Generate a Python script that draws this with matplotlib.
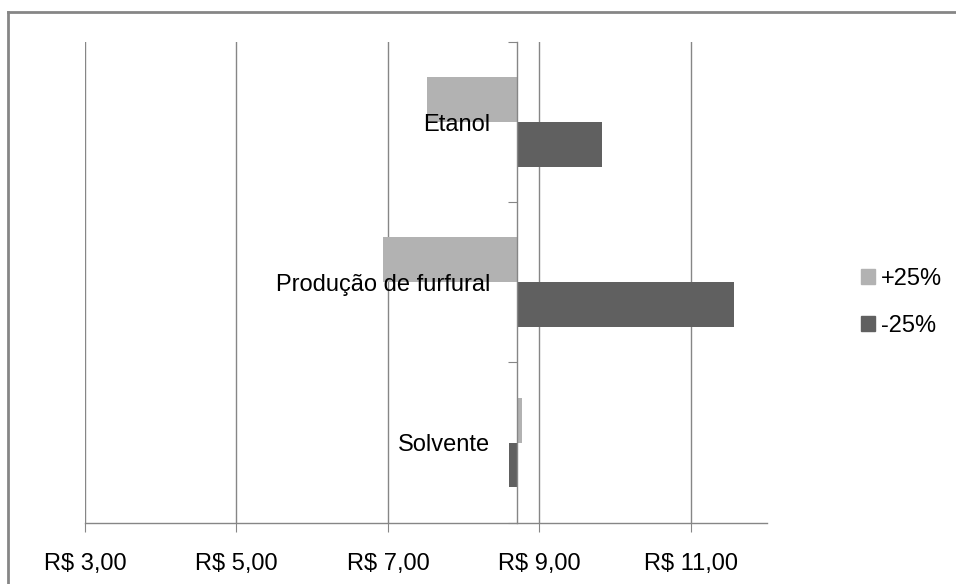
import matplotlib
matplotlib.use("Agg")
import matplotlib.pyplot as plt
from matplotlib.lines import Line2D
from matplotlib.patches import Patch

# dados do gráfico de sensibilidade (tornado)
categorias = ["Solvente", "Produção de furfural", "Etanol"]
mais_25 = [8.77, 6.94, 7.52]
menos_25 = [8.60, 11.57, 9.82]
base = 8.70
x_ticks = [3, 5, 7, 9, 11]
x_labels = ["R$ 3,00", "R$ 5,00", "R$ 7,00", "R$ 9,00", "R$ 11,00"]
series = ["+25%", "-25%"]

cinza_claro = "#b2b2b2"
cinza_escuro = "#606060"
cinza_linha = "#868686"

plt.rcParams["font.family"] = ["Liberation Sans", "DejaVu Sans"]
plt.rcParams["font.size"] = 17

fig = plt.figure(figsize=(9.56, 5.84), dpi=100)
ax = fig.add_axes([85 / 956, 1 - 522.7 / 584, (766.7 - 85) / 956, (522.7 - 42) / 584])

y = list(range(len(categorias)))
h = 0.28
ax.barh([v + h / 2 for v in y], [m - base for m in mais_25], left=base, height=h,
        color=cinza_claro, label=series[0], zorder=2)
ax.barh([v - h / 2 for v in y], [m - base for m in menos_25], left=base, height=h,
        color=cinza_escuro, label=series[1], zorder=2)

ax.set_xlim(3, 12)
ax.set_ylim(-0.5, len(categorias) - 0.5)
ax.set_xticks(x_ticks)
ax.set_xticklabels(x_labels)
ax.grid(axis="x", color=cinza_linha, lw=1)
ax.set_axisbelow(True)
ax.yaxis.set_zorder(5)  # rótulos das categorias por cima das barras

# eixo vertical cruzando no valor base
ax.spines["left"].set_position(("data", base))
ax.spines["right"].set_visible(False)
ax.spines["top"].set_visible(False)
for s in ["left", "bottom"]:
    ax.spines[s].set_color(cinza_linha)
    ax.spines[s].set_linewidth(1)

ax.set_yticks([v - 0.5 for v in range(len(categorias) + 1)])
ax.set_yticklabels([])
ax.set_yticks(y, minor=True)
ax.set_yticklabels(categorias, minor=True)
ax.tick_params(axis="y", which="major", direction="out", length=6.5, color=cinza_linha)
ax.tick_params(axis="y", which="minor", length=0, pad=19)
ax.tick_params(axis="x", direction="out", length=6.5, color=cinza_linha, pad=15)

handles = [Patch(color=cinza_claro), Patch(color=cinza_escuro)]
fig.legend(handles, series, loc="center left", bbox_to_anchor=(861 / 956, 1 - 302.5 / 584),
           frameon=False, borderpad=0, borderaxespad=0, handlelength=0.6, handleheight=0.6,
           handletextpad=0.25, labelspacing=1.07)

# moldura do gráfico (só topo e esquerda visíveis)
fig.add_artist(Line2D([8 / 956, 8 / 956], [0, 1 - 12 / 584], color=cinza_linha, lw=2,
                      transform=fig.transFigure))
fig.add_artist(Line2D([8 / 956, 1], [1 - 12 / 584, 1 - 12 / 584], color=cinza_linha, lw=2,
                      transform=fig.transFigure))

fig.savefig("out.png", dpi=100)
